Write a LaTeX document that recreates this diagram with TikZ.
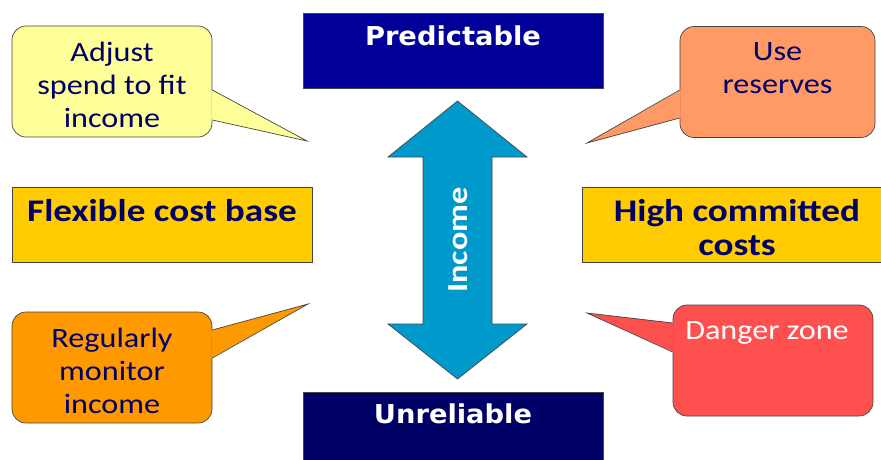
\documentclass[tikz,border=0pt]{standalone}
\usepackage{fontspec}
\setmainfont{Carlito}[FakeStretch=1.15]
\newfontfamily\headfont{DejaVu Sans}[FakeStretch=1.05]
\newfontfamily\costfont{Carlito}[FakeStretch=1.18]
\usetikzlibrary{positioning}
\definecolor{navy}{RGB}{0,0,102}
\definecolor{edgegray}{RGB}{70,70,70}
\definecolor{predblue}{RGB}{0,0,153}
\definecolor{unrelblue}{RGB}{0,0,102}
\definecolor{incomeblue}{RGB}{0,153,204}
\definecolor{gold}{RGB}{255,204,0}
\definecolor{paleyellow}{RGB}{255,255,153}
\definecolor{peach}{RGB}{255,153,102}
\definecolor{amber}{RGB}{255,153,0}
\definecolor{alarmred}{RGB}{255,80,80}

\begin{document}
\begin{tikzpicture}[
    x=1pt, y=-1pt,
    outline/.style={draw=edgegray, line width=0.7pt},
    bandbox/.style={
        outline,
        rectangle,
        minimum width=300pt,
        minimum height=75pt,
        inner sep=0pt
    },
    costbox/.style={
        outline,
        rectangle,
        fill=gold,
        minimum width=300pt,
        minimum height=75pt,
        inner sep=0pt
    },
    bubble/.style={
        outline,
        rectangle,
        rounded corners=14pt,
        minimum width=200pt,
        minimum height=111pt,
        inner sep=0pt
    },
    bandtext/.style={inner sep=0pt, text=white, font=\headfont\bfseries\fontsize{26}{30}\selectfont},
    costtext/.style={inner sep=0pt, align=center, text=navy, font=\costfont\bfseries\fontsize{31.5}{34}\selectfont},
    bubbletext/.style={inner sep=0pt, align=center, text=navy, font=\fontsize{28}{33}\selectfont}
]
\useasboundingbox (0,0) rectangle (881,459);
\clip (0,0) rectangle (881,459);

% Top and bottom bands
\node[bandbox, fill=predblue] (pred) at (453,50.5) {};
\node[bandtext, below=13pt of pred.north] (predlabel) {Predictable};

\node[bandbox, fill=unrelblue] (unrel) at (453,429.5) {};
\node[bandtext, below=12pt of unrel.north] (unrellabel) {Unreliable};

% Income arrow
\draw[outline, fill=incomeblue] (457.5,101) -- (527,157) -- (492,157) -- (492,324)
    -- (527,324) -- (457.5,379) -- (388,324) -- (423,324) -- (423,157) -- (388,157) -- cycle;
\node[rotate=90, inner sep=0pt, text=white, font=\costfont\bfseries\fontsize{29}{29}\selectfont] (income) at (458,240) {Income};

% Cost base boxes
\node[costbox] (flex) at (162,224.5) {};
\node[costtext, below=13pt of flex.north] (flexlabel) {Flexible cost base};

\node[costbox, minimum width=310pt] (high) at (737,224.5) {};
\node[costtext, below=13pt of high.north] (highlabel) {High committed\\costs};

% Callouts, left side
\node[bubble, fill=paleyellow] (adjust) at (112,81.5) {};
\coordinate (adjusttip) at (307,141);
\fill[paleyellow] ([shift={(-1pt,-8.5pt)}]adjust.east) -- (adjusttip) -- ([shift={(-1pt,-38.5pt)}]adjust.east) -- cycle;
\draw[outline] ([yshift=-8.5pt]adjust.east) -- (adjusttip) -- ([yshift=-38.5pt]adjust.east);
\node[bubbletext, below=16pt of adjust.north] (adjustlabel) {Adjust\\spend to fit\\income};

\node[bubble, fill=amber] (monitor) at (112,367.5) {};
\coordinate (monitortip) at (308,304);
\fill[amber] ([shift={(-1pt,9.5pt)}]monitor.east) -- (monitortip) -- ([shift={(-1pt,37.5pt)}]monitor.east) -- cycle;
\draw[outline] ([yshift=9.5pt]monitor.east) -- (monitortip) -- ([yshift=37.5pt]monitor.east);
\node[bubbletext, below=16pt of monitor.north] (monitorlabel) {Regularly\\monitor\\income};

% Callouts, right side
\node[bubble, fill=peach, minimum width=195pt] (reserves) at (777.5,82) {};
\coordinate (reservestip) at (587,143);
\fill[peach] ([shift={(1pt,-8pt)}]reserves.west) -- (reservestip) -- ([shift={(1pt,-36pt)}]reserves.west) -- cycle;
\draw[outline] ([yshift=-8pt]reserves.west) -- (reservestip) -- ([yshift=-36pt]reserves.west);
\node[bubbletext, below=16pt of reserves.north] (reserveslabel) {Use\\reserves};

\node[bubble, fill=alarmred] (danger) at (773,360.5) {};
\coordinate (dangertip) at (587,313);
\fill[alarmred] ([shift={(1pt,8.5pt)}]danger.west) -- (dangertip) -- ([shift={(1pt,37.5pt)}]danger.west) -- cycle;
\draw[outline] ([yshift=8.5pt]danger.west) -- (dangertip) -- ([yshift=37.5pt]danger.west);
\node[bubbletext, text=white, below=17pt of danger.north, xshift=-6pt] (dangerlabel) {Danger zone};

\end{tikzpicture}
\end{document}
